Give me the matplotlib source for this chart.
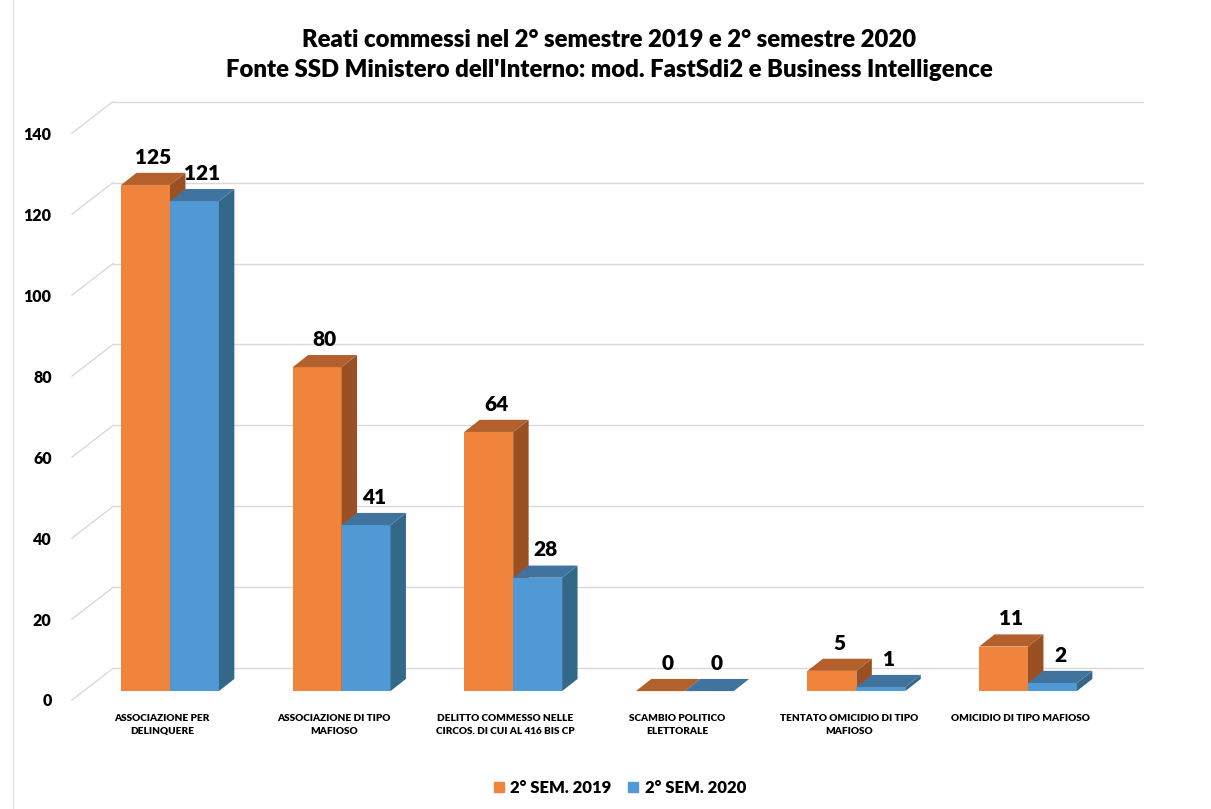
import matplotlib.pyplot as plt
from matplotlib.patches import Patch
from matplotlib.lines import Line2D

# dati (Fonte SSD Ministero dell'Interno)
categorie = ['ASSOCIAZIONE PER\nDELINQUERE',
             'ASSOCIAZIONE DI TIPO\nMAFIOSO',
             'DELITTO COMMESSO NELLE\nCIRCOS. DI CUI AL 416 BIS CP',
             'SCAMBIO POLITICO\nELETTORALE',
             'TENTATO OMICIDIO DI TIPO\nMAFIOSO',
             'OMICIDIO DI TIPO MAFIOSO']
sem_2019 = [125, 80, 64, 0, 5, 11]
sem_2020 = [121, 41, 28, 0, 1, 2]
serie = ['2° SEM. 2019', '2° SEM. 2020']
yticks = [0, 20, 40, 60, 80, 100, 120, 140]

plt.rcParams['font.family'] = ['Lato', 'DejaVu Sans']
W = 'heavy'  # peso del testo

# colori: fronte, sopra, lato
col_or = ('#F0843C', '#B3602D', '#9A5023')
col_bl = ('#5199D4', '#40749F', '#336888')
col_grid = '#D9D9D9'

# finto effetto 3d (in unita' dei dati)
WALL_DX, WALL_DY = 0.239, 7.8
BAR_DX, BAR_DY = 0.09, 3.0
BAR_W = 0.285
BAR_BASE = 2.2
FLOOR_X = -0.571
WALL_RIGHT = 5.67

fig = plt.figure(figsize=(12.11, 8.09), dpi=100)
fig.add_artist(Line2D([13/1211, 13/1211], [0, 1], transform=fig.transFigure,
                      color='#E3E3E3', lw=1))
ax = fig.add_axes([60/1211, 1 - 710/809, 1090/1211, 621/809])
ax.set_xlim(-0.641, 5.711)
ax.set_ylim(-2.47, 150.9)

# griglia: parete di fondo + diagonali del pavimento
for t in yticks:
    ax.plot([FLOOR_X, FLOOR_X + WALL_DX], [t, t + WALL_DY], color=col_grid, lw=1, zorder=1)
    ax.plot([FLOOR_X + WALL_DX, WALL_RIGHT], [t + WALL_DY, t + WALL_DY], color=col_grid, lw=1, zorder=1)

z = 3
for i in range(len(categorie)):
    for val, off, cols in [(sem_2019[i], -BAR_W, col_or), (sem_2020[i], 0, col_bl)]:
        x0 = i + off
        top = BAR_BASE + val
        if val > 0:
            ax.bar(x0, val, width=BAR_W, bottom=BAR_BASE, align='edge',
                   color=cols[0], lw=0, zorder=z)
            ax.fill([x0 + BAR_W, x0 + BAR_W + BAR_DX, x0 + BAR_W + BAR_DX, x0 + BAR_W],
                    [BAR_BASE, BAR_BASE + BAR_DY, top + BAR_DY, top],
                    color=cols[2], lw=0, zorder=z)
        ax.fill([x0, x0 + BAR_W, x0 + BAR_W + BAR_DX, x0 + BAR_DX],
                [top, top, top + BAR_DY, top + BAR_DY], color=cols[1], lw=0, zorder=z)
        ax.text(x0 + BAR_W / 2 + BAR_DX / 2, top + BAR_DY + 1.5, str(val),
                ha='center', va='bottom', fontsize=15, fontweight=W, zorder=20)
        z += 1

ax.set_yticks(yticks)
ax.set_yticklabels([str(t) for t in yticks], fontsize=11.5, fontweight=W)
ax.set_xticks([i - 0.045 for i in range(len(categorie))])
ax.set_xticklabels(categorie, fontsize=7.2, fontweight=W, linespacing=1.5)
ax.tick_params(axis='both', length=0)
ax.tick_params(axis='y', pad=6)
ax.tick_params(axis='x', pad=3)
for s in ax.spines.values():
    s.set_visible(False)

fig.text(0.503, 0.932, "Reati commessi nel 2° semestre 2019 e 2° semestre 2020\n"
         "Fonte SSD Ministero dell'Interno: mod. FastSdi2 e Business Intelligence",
         ha='center', va='center', fontsize=17.2, fontweight=W, linespacing=1.4)

handles = [Patch(color=col_or[0]), Patch(color=col_bl[0])]
fig.legend(handles, serie, loc='center', bbox_to_anchor=(0.512, 0.026), ncol=2,
           frameon=False, prop={'size': 12, 'weight': W},
           handlelength=0.6, handleheight=0.6, handletextpad=0.4, columnspacing=1.0)

fig.savefig('out.png', dpi=100)
